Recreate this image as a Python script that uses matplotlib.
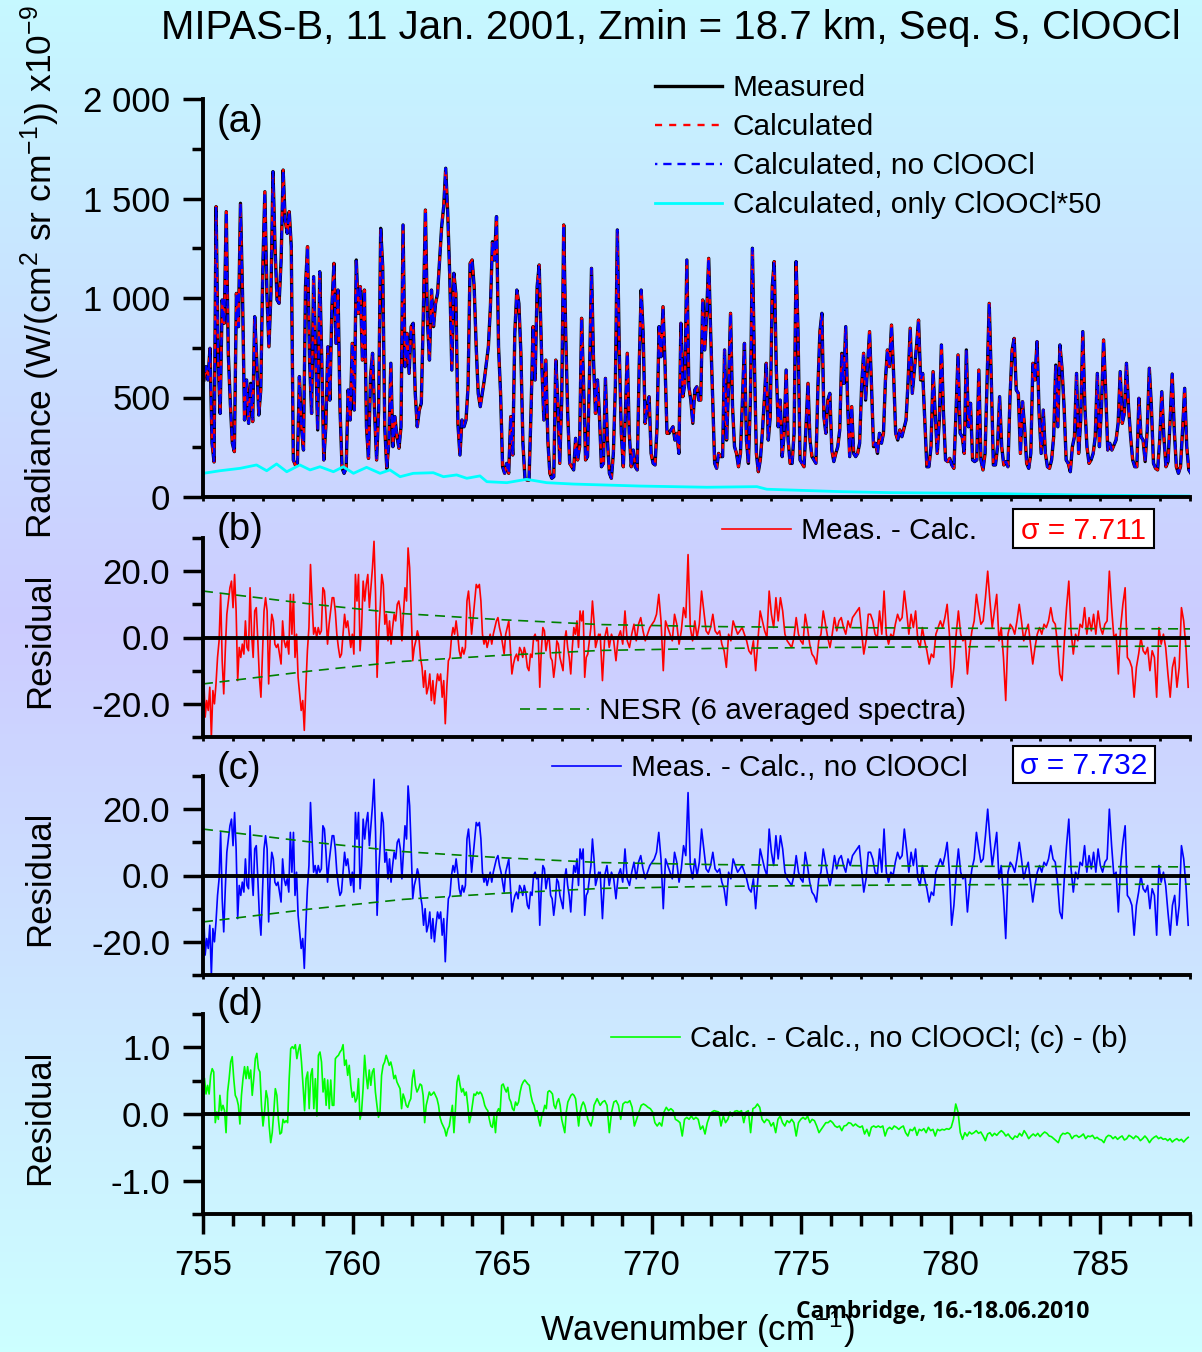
import numpy as np
import matplotlib.pyplot as plt
from matplotlib.colors import LinearSegmentedColormap
from matplotlib.patches import Rectangle
from matplotlib.ticker import FixedLocator, MultipleLocator, FuncFormatter

plt.rcParams['font.family'] = ['Liberation Sans', 'DejaVu Sans']
plt.rcParams['mathtext.fontset'] = 'custom'
plt.rcParams['mathtext.rm'] = 'Liberation Sans'
plt.rcParams['mathtext.it'] = 'Liberation Sans:italic'
plt.rcParams['mathtext.bf'] = 'Liberation Sans:bold'
plt.rcParams['axes.unicode_minus'] = False

# ---------------- data ----------------
# (a) measured radiance (x1e-9 W/(cm2 sr cm-1)), three stretches, even wavenumber steps
rad_1_range = (755.03, 766.24)
rad_1 = [588, 655, 588, 747, 270, 176, 1459, 688, 420, 990,
         873, 1434, 722, 471, 270, 228, 1023, 856, 1476, 1023,
         387, 588, 370, 571, 379, 906, 688, 412, 538, 1157,
         1534, 1023, 755, 1023, 1635, 1258, 990, 973, 1191, 1643,
         1392, 1325, 1434, 1258, 186, 161, 161, 605, 353, 236,
         1057, 1258, 688, 420, 1107, 722, 337, 1132, 688, 186,
         353, 755, 487, 956, 1174, 772, 1040, 437, 144, 119,
         144, 538, 387, 772, 437, 1191, 923, 1057, 688, 1040,
         353, 194, 605, 722, 420, 186, 437, 1350, 1157, 353,
         144, 270, 672, 253, 404, 303, 245, 353, 1367, 655,
         822, 621, 856, 873, 521, 353, 437, 471, 923, 1442,
         889, 688, 1040, 856, 973, 1023, 1191, 1358, 1459, 1652,
         1425, 1107, 638, 1124, 1023, 370, 211, 387, 353, 387,
         554, 1174, 1191, 1057, 755, 521, 454, 521, 588, 672,
         755, 956, 1283, 1191, 1409, 755, 521, 152, 119, 169,
         119, 404, 211, 822, 1040, 973, 722, 270, 94, 85,
         85, 437, 856, 588, 1057, 1166]
rad_2_range = (766.33, 777.95)
rad_2 = [655, 387, 688, 286, 119, 94, 102, 688, 487, 169,
         487, 1367, 822, 420, 169, 152, 136, 295, 186, 253,
         898, 571, 186, 203, 621, 1149, 688, 420, 588, 404,
         152, 169, 596, 286, 119, 94, 219, 554, 1342, 722,
         320, 152, 404, 722, 320, 152, 236, 152, 136, 655,
         1040, 822, 370, 454, 504, 219, 169, 161, 353, 856,
         705, 956, 672, 320, 320, 337, 353, 286, 320, 219,
         873, 504, 571, 1191, 554, 487, 370, 538, 554, 487,
         487, 990, 739, 923, 1199, 822, 487, 169, 144, 219,
         203, 203, 739, 286, 554, 923, 454, 253, 219, 152,
         219, 487, 772, 286, 169, 487, 1250, 688, 219, 127,
         186, 320, 487, 672, 286, 404, 1057, 1183, 655, 353,
         487, 203, 320, 638, 286, 169, 169, 320, 1183, 822,
         186, 169, 152, 353, 571, 286, 203, 186, 169, 554,
         831, 923, 404, 320, 487, 521, 236, 178, 219, 253,
         337, 722, 571, 856, 454, 203, 454, 219, 203, 219,
         270, 554, 722, 487, 655, 831, 554, 253, 270, 219,
         320, 270, 320, 588, 739, 655]
rad_3_range = (778.02, 788.03)
rad_3 = [864, 621, 320, 286, 337, 303, 345, 387, 588, 848,
         521, 638, 755, 889, 588, 621, 387, 152, 152, 253,
         630, 420, 219, 387, 764, 420, 186, 178, 194, 161,
         144, 420, 714, 320, 303, 219, 739, 353, 471, 186,
         178, 186, 638, 186, 136, 219, 588, 973, 588, 161,
         161, 253, 504, 253, 161, 178, 152, 504, 739, 797,
         538, 521, 219, 479, 353, 169, 144, 219, 672, 588,
         781, 420, 219, 437, 219, 152, 144, 186, 303, 663,
         353, 764, 647, 454, 186, 169, 127, 253, 303, 621,
         219, 387, 831, 454, 253, 169, 186, 219, 303, 621,
         253, 454, 789, 538, 236, 270, 236, 261, 286, 370,
         630, 370, 420, 672, 454, 303, 186, 152, 152, 496,
         303, 286, 178, 337, 647, 454, 169, 144, 136, 286,
         529, 303, 152, 178, 387, 618, 337, 152, 119, 152,
         337, 546, 253, 136, 119]

# ClOOCl-only contribution (x50)
clo_wn = [755.01, 755.57, 756.24, 756.79, 757.13, 757.46, 757.80, 758.24, 758.58,
          758.91, 759.36, 759.69, 760.03, 760.47, 760.92, 761.25, 761.59, 762.03,
          762.70, 763.04, 763.48, 763.82, 764.26, 764.49, 765.16, 765.82, 766.49,
          767.39, 769.62, 771.85, 773.52, 773.85, 776.30, 777.95, 780.99, 784.33, 788.01]
clo_rad = [119, 132, 144, 161, 132, 166, 127, 161, 136,
           152, 127, 152, 119, 149, 119, 136, 102, 119,
           122, 102, 111, 94, 106, 77, 72, 89, 72,
           65, 55, 49, 52, 39, 27, 22, 18, 10, 5]

# NESR envelope (6 averaged spectra)
nesr_wn = [755.0, 758.5, 761.7, 764.9, 768.3, 772.0, 776.0, 780.0, 784.0, 788.0]
nesr = [14.0, 10.2, 7.2, 5.4, 3.9, 3.3, 3.0, 2.8, 2.7, 2.6]

# (b) Meas. - Calc., two stretches on even steps
res_1_range = (755.02, 768.28)
res_1 = [-11, -24, -19, -22, -15, -30, -16, -20, -14, -6,
         -1, 13, -7, -17, -4, 7, 11, 15, 17, 9,
         19, 8, -13, -3, -6, -2, -5, 5, -3, -4,
         15, 1, -6, 8, 9, -1, -12, -18, -5, 8,
         12, 8, -14, 0, 7, 5, -2, -3, -2, -5,
         -8, 5, -1, -3, -1, -5, 13, 1, 13, -6,
         1, -12, -17, -22, -19, -28, -15, -4, 3, 22,
         11, 1, 3, 0, 3, 1, 2, 15, 14, 7,
         -2, 4, 8, 12, 12, 8, 1, -3, -6, -5,
         1, 7, 3, 5, 1, -3, 1, -5, 19, 11,
         19, -4, 3, 17, 11, 16, 19, 9, 15, 21,
         29, 13, -12, 1, 9, 19, 16, 4, 7, -1,
         5, -2, 3, 7, 5, 10, 11, 8, -1, 7,
         15, 11, 27, 21, 8, -7, -3, -1, 2, 0,
         -6, -9, -15, -10, -17, -15, -11, -19, -13, -20,
         -15, -11, -13, -11, -18, -13, -26, -15, -7, -6,
         0, 3, 1, 5, 1, -4, -6, -3, -5, -3,
         11, 14, 8, 1, 6, 11, 16, 15, 16, 11,
         1, -2, 0, -3, -1, 1, -2, 1, 3, 5,
         6, 3, 1, -2, -5, 1, 3, 5, -3, -11,
         -8, -6, -5, -7, -3, -4, -6, -3, -5, -9,
         -10, -5, -6, 0, 1, -1, 0, -15, -4, 3,
         2, -4, -1, 0, -6, -7, -12, -8, -1, -2,
         -6, -8, -10, -1, 2, -3, -6, -11, -3, 3,
         1, 5, -3, 8, 5, 8, -12, -6, -5, -1,
         3, 11, 5, -3, -1, 1, 0]
res_2_range = (768.28, 787.94)
res_2 = [1, -13, 0, 3, -3, 1, -1, -7, 0, 2,
         -2, 8, -1, -3, 1, 4, -1, 4, 6, 2,
         -1, 1, 3, 4, 5, 7, 13, 5, -10, 5,
         3, 1, -1, 7, 4, -2, 2, 9, 6, 25,
         3, -1, 5, 0, 4, 14, 8, 2, 1, 3,
         7, 2, 1, 2, -2, -4, -9, 1, -1, 5,
         3, 1, 2, 3, 1, -1, -4, -5, -1, -10,
         -1, 8, 5, 2, 0, 14, 7, 3, 12, 5,
         12, 8, 1, -1, -2, -3, 0, 6, 1, -1,
         -2, 7, 3, -2, -5, -6, -8, -1, 1, 8,
         4, 0, -3, 1, 6, 2, 5, 6, 3, 1,
         5, 3, 6, 7, 8, 9, 2, -5, -1, 7,
         7, 5, 1, 0, 8, 1, 14, 1, -2, 1,
         0, 4, 7, 5, 6, 14, 8, 1, 7, 3,
         8, -1, -3, 3, -1, -4, -8, -5, -6, 1,
         3, 5, 3, 6, 10, 1, -15, -9, 1, 8,
         1, -1, 0, -11, -3, 2, 5, 13, 8, 4,
         5, 12, 20, 11, 3, 8, 13, -1, 3, -6,
         -19, 1, 4, 3, 1, 5, 10, 5, -1, 2,
         4, -2, -8, -3, 1, 3, 1, 4, 3, 5,
         9, 5, 4, -2, -11, -13, -1, 9, 17, 2,
         -5, 1, -1, 4, 3, 9, 1, 6, 2, 7,
         1, 8, 3, 1, 4, 5, 20, 9, 0, 1,
         -11, 3, 10, 15, -6, -7, -9, -18, -9, -5,
         0, -4, -5, -3, -10, -4, -6, -18, 3, -2,
         1, -3, -11, -18, -9, -6, -15, -9, 9, 5,
         -3, -15]

# (d) Calc. - Calc., no ClOOCl
dif_1_range = (755.05, 768.28)
dif_1 = [0.53, 0.30, 0.43, 0.30, 0.58, 0.68, 0.63, -0.13, 0.03, -0.08,
         0.28, 0.05, 0.13, 0.05, -0.28, 0.33, 0.53, 0.78, 0.86, 0.53,
         0.28, 0.23, 0.13, -0.15, 0.28, 0.53, 0.71, 0.53, 0.71, 0.53,
         0.66, 0.28, 0.53, 0.83, 0.91, 0.68, 0.63, 0.13, -0.18, 0.03,
         0.35, 0.23, -0.18, -0.43, -0.28, 0.03, 0.38, 0.28, -0.08, -0.30,
         -0.28, -0.08, -0.13, -0.10, -0.13, 0.53, 0.98, 1.01, 0.98, 1.04,
         0.83, 0.96, 1.04, 0.78, 0.43, 0.05, 0.53, 0.63, 0.08, 0.58,
         0.68, 0.08, 0.53, -0.03, 0.88, 0.93, 0.78, 0.33, 0.53, 0.13,
         0.51, 0.08, 0.51, 0.13, 0.13, 0.83, 0.86, 0.88, 0.93, 0.96,
         1.04, 0.73, 0.81, 0.58, 0.73, 0.43, 0.25, 0.33, 0.18, 0.23,
         0.53, -0.08, 0.03, 0.38, 0.88, 0.58, 0.38, 0.66, 0.43, 0.63,
         0.68, 0.33, 0.13, -0.05, 0.03, 0.58, 0.73, 0.78, 0.88, 0.81,
         0.73, 0.78, 0.68, 0.53, 0.58, 0.48, 0.43, 0.38, 0.08, 0.30,
         0.23, 0.13, 0.10, 0.18, 0.23, 0.53, 0.66, 0.43, 0.33, 0.38,
         0.45, 0.43, 0.28, -0.13, 0.13, 0.23, 0.33, 0.28, 0.30, 0.33,
         0.28, 0.23, 0.13, -0.05, -0.13, -0.18, -0.23, -0.33, -0.23, -0.18,
         -0.03, 0.13, -0.28, 0.08, 0.48, 0.58, 0.43, 0.33, 0.38, 0.28,
         0.33, 0.13, -0.13, -0.03, 0.13, 0.30, 0.28, 0.33, 0.30, 0.33,
         0.30, 0.23, 0.13, 0.08, 0.05, -0.08, -0.18, -0.20, -0.03, -0.28,
         0.03, 0.08, 0.03, 0.43, 0.45, 0.38, 0.33, 0.40, 0.23, 0.18,
         0.08, 0.05, 0.18, 0.13, 0.18, 0.33, 0.43, 0.48, 0.51, 0.48,
         0.45, 0.43, 0.28, 0.18, 0.13, 0.03, 0.05, -0.08, -0.18, -0.03,
         0.03, 0.13, 0.08, 0.33, 0.35, 0.33, 0.30, 0.13, 0.08, 0.18,
         0.23, 0.13, -0.08, -0.18, -0.28, 0.03, 0.18, 0.23, 0.28, 0.30,
         0.28, 0.23, 0.03, -0.18, 0.03, 0.13, 0.18, 0.13, 0.03, -0.08,
         -0.13, -0.18, -0.08, 0.13, 0.18, 0.23, 0.18, 0.13]
dif_2_range = (768.28, 787.94)
dif_2 = [0.13, 0.18, 0.20, 0.13, -0.28, 0.03, 0.18, 0.20, 0.13, -0.08,
         0.15, 0.18, 0.17, 0.20, 0.10, -0.18, -0.08, 0.03, 0.13, 0.15,
         0.13, 0.10, 0.08, 0.03, -0.13, -0.18, -0.13, -0.18, 0.03, 0.10,
         0.05, 0.08, 0.05, -0.08, -0.10, -0.13, -0.33, -0.08, -0.05, -0.08,
         -0.03, -0.08, -0.05, -0.08, -0.23, -0.18, -0.30, -0.13, -0.03, 0.03,
         0.05, 0.04, 0.03, -0.18, -0.03, -0.13, -0.08, 0.03, -0.03, 0.04,
         0.05, 0.03, 0.05, -0.13, 0.03, 0.05, -0.28, 0.08, 0.10, 0.15,
         0.10, -0.08, -0.13, -0.08, -0.10, -0.18, -0.13, -0.28, -0.08, -0.03,
         -0.13, -0.18, -0.10, -0.13, -0.08, -0.13, -0.33, -0.13, -0.08, -0.05,
         -0.08, -0.03, -0.13, -0.08, -0.10, -0.18, -0.28, -0.23, -0.18, -0.13,
         -0.13, -0.10, -0.13, -0.18, -0.20, -0.18, -0.25, -0.18, -0.17, -0.13,
         -0.14, -0.18, -0.15, -0.18, -0.20, -0.18, -0.30, -0.23, -0.33, -0.20,
         -0.18, -0.20, -0.18, -0.20, -0.18, -0.33, -0.23, -0.20, -0.23, -0.18,
         -0.20, -0.23, -0.20, -0.18, -0.28, -0.33, -0.23, -0.25, -0.20, -0.32,
         -0.23, -0.25, -0.22, -0.28, -0.20, -0.25, -0.23, -0.33, -0.23, -0.25,
         -0.23, -0.24, -0.22, -0.23, -0.20, -0.08, 0.15, 0.03, -0.28, -0.38,
         -0.28, -0.33, -0.27, -0.30, -0.28, -0.25, -0.29, -0.27, -0.33, -0.40,
         -0.30, -0.28, -0.33, -0.29, -0.32, -0.28, -0.25, -0.28, -0.33, -0.30,
         -0.35, -0.38, -0.33, -0.35, -0.29, -0.33, -0.25, -0.30, -0.37, -0.33,
         -0.30, -0.33, -0.29, -0.34, -0.30, -0.27, -0.29, -0.33, -0.34, -0.37,
         -0.40, -0.43, -0.33, -0.29, -0.30, -0.28, -0.30, -0.37, -0.33, -0.32,
         -0.35, -0.33, -0.30, -0.37, -0.33, -0.34, -0.32, -0.37, -0.35, -0.38,
         -0.39, -0.43, -0.35, -0.32, -0.33, -0.37, -0.34, -0.38, -0.35, -0.33,
         -0.39, -0.37, -0.32, -0.34, -0.37, -0.33, -0.35, -0.40, -0.37, -0.33,
         -0.37, -0.43, -0.38, -0.35, -0.33, -0.37, -0.35, -0.38, -0.37, -0.40,
         -0.37, -0.42, -0.39, -0.37, -0.40, -0.38, -0.42, -0.38, -0.35]

sigma_b = 7.711
sigma_c = 7.732


def grid(rng, vals):
    return np.linspace(rng[0], rng[1], len(vals))


wn_a = np.concatenate([grid(rad_1_range, rad_1), grid(rad_2_range, rad_2), grid(rad_3_range, rad_3)])
measured = np.concatenate([rad_1, rad_2, rad_3])
calculated = measured.copy()        # both fits lie on the measurement at this scale
calculated_noclo = measured.copy()

wn_r = np.concatenate([grid(res_1_range, res_1), grid(res_2_range, res_2)])
resid_b = np.concatenate([res_1, res_2])
resid_c = resid_b.copy()            # (c) reads the same as (b); their difference is (d)

wn_d = np.concatenate([grid(dif_1_range, dif_1), grid(dif_2_range, dif_2)])
resid_d = np.concatenate([dif_1, dif_2])

nesr = np.array(nesr)

# ---------------- figure ----------------
W, H = 1202, 1352
fig = plt.figure(figsize=(W / 100, H / 100), dpi=100)


def px_box(x0, y0, x1, y1):
    return [x0 / W, 1 - y1 / H, (x1 - x0) / W, (y1 - y0) / H]


# background gradient
bg = fig.add_axes([0, 0, 1, 1], zorder=-5)
cmap = LinearSegmentedColormap.from_list('bg', [(0, '#c6f8ff'), (0.46, '#ccccff'), (1, '#ccffff')])
bg.imshow(np.linspace(0, 1, 256)[:, None], aspect='auto', cmap=cmap, extent=[0, 1, 0, 1])
bg.axis('off')

ax_a = fig.add_axes(px_box(203, 99, 1190, 497))
ax_b = fig.add_axes(px_box(203, 538, 1190, 737))
ax_c = fig.add_axes(px_box(203, 776, 1190, 975))
ax_d = fig.add_axes(px_box(203, 1014, 1190, 1214))

TICK = 25
for ax in (ax_a, ax_b, ax_c, ax_d):
    ax.set_facecolor('none')
    ax.spines[['top', 'right']].set_visible(False)
    ax.spines[['left', 'bottom']].set_linewidth(2.8)
    ax.set_xlim(755, 788)
    ax.xaxis.set_major_locator(MultipleLocator(5))
    ax.xaxis.set_minor_locator(MultipleLocator(1))
    ax.tick_params(axis='y', which='major', direction='out', length=14.5, width=2.5,
                   pad=9, labelsize=TICK)
    ax.tick_params(axis='y', which='minor', direction='out', length=8, width=2.5)
    if ax is not ax_d:
        ax.tick_params(axis='x', which='both', direction='out', length=3, width=2,
                       labelbottom=False)

# (a)
ax_a.plot(wn_a, measured, color='black', lw=2.4, label='Measured')
ax_a.plot(wn_a, calculated, color='red', lw=1.7, linestyle=(0, (3.0, 3.0)), label='Calculated')
ax_a.plot(wn_a, calculated_noclo, color='blue', lw=1.7, linestyle=(2.5, (3.5, 2.5)),
          label='Calculated, no ClOOCl')
ax_a.plot(clo_wn, clo_rad, color='cyan', lw=2, label='Calculated, only ClOOCl*50')
ax_a.set_ylim(0, 2000)
ax_a.yaxis.set_major_locator(FixedLocator([0, 500, 1000, 1500, 2000]))
ax_a.yaxis.set_minor_locator(MultipleLocator(250))
ax_a.yaxis.set_major_formatter(FuncFormatter(lambda v, p: f'{v:,.0f}'.replace(',', ' ')))

# (b), (c)
for ax, res, col in ((ax_b, resid_b, 'red'), (ax_c, resid_c, 'blue')):
    ax.plot(wn_r, res, color=col, lw=1.2)
    ax.plot(nesr_wn, nesr, color='#008000', lw=1.2, dashes=(6, 4))
    ax.plot(nesr_wn, -nesr, color='#008000', lw=1.2, dashes=(6, 4))
    ax.axhline(0, color='black', lw=2.8, zorder=3)
    ax.set_ylim(-30, 30)
    ax.yaxis.set_major_locator(FixedLocator([-20, 0, 20]))
    ax.yaxis.set_minor_locator(MultipleLocator(10))
    ax.yaxis.set_major_formatter(FuncFormatter(lambda v, p: f'{v:.1f}'))

# (d)
ax_d.plot(wn_d, resid_d, color='#00ff00', lw=1.2)
ax_d.axhline(0, color='black', lw=2.8, zorder=3)
ax_d.set_ylim(-1.5, 1.5)
ax_d.yaxis.set_major_locator(FixedLocator([-1, 0, 1]))
ax_d.yaxis.set_minor_locator(MultipleLocator(0.5))
ax_d.yaxis.set_major_formatter(FuncFormatter(lambda v, p: f'{v:.1f}'))
ax_d.tick_params(axis='x', which='major', direction='out', length=14.5, width=2.5,
                 pad=11, labelsize=TICK)
ax_d.tick_params(axis='x', which='minor', direction='out', length=8.5, width=2.5)

# legends
LEG = 21.5
leg_kw = dict(frameon=False, fontsize=LEG, borderpad=0, borderaxespad=0,
              handlelength=2.3, handletextpad=0.33)
fig.legend(handles=ax_a.lines, loc='upper left', bbox_to_anchor=(655 / W, 1 - 74 / H),
           labelspacing=0.37, **dict(leg_kw, handlelength=2.24, handletextpad=0.37))
fig.legend(handles=[ax_b.lines[0]], labels=['Meas. - Calc.'], loc='center left',
           bbox_to_anchor=(722 / W, 1 - 531 / H), **leg_kw)
fig.legend(handles=[ax_b.lines[1]], labels=['NESR (6 averaged spectra)'], loc='center left',
           bbox_to_anchor=(520 / W, 1 - 711 / H), **leg_kw)
fig.legend(handles=[ax_c.lines[0]], labels=['Meas. - Calc., no ClOOCl'], loc='center left',
           bbox_to_anchor=(552 / W, 1 - 768 / H), **leg_kw)
fig.legend(handles=[ax_d.lines[0]], labels=['Calc. - Calc., no ClOOCl; (c) - (b)'],
           loc='center left', bbox_to_anchor=(611 / W, 1 - 1039 / H), **leg_kw)

# sigma boxes
for (x0, y0, x1, y1), sig, col in (((1013, 509, 1154, 548), sigma_b, 'red'),
                                   ((1013, 746, 1155, 783), sigma_c, 'blue')):
    fig.add_artist(Rectangle((x0 / W, 1 - y1 / H), (x1 - x0) / W, (y1 - y0) / H,
                             transform=fig.transFigure, fc='white', ec='black', lw=1.5))
    fig.text((x0 + x1) / 2 / W, 1 - ((y0 + y1) / 2 + 2) / H, f'σ = {sig:.3f}', color=col,
             fontsize=LEG, ha='center', va='center')

# texts
fig.text(671 / W, 1 - 39 / H, 'MIPAS-B, 11 Jan. 2001, Zmin = 18.7 km, Seq. S, ClOOCl',
         fontsize=29, ha='center', va='baseline')
fig.text(40 / W, 1 - 272 / H, r'Radiance (W/(cm$^{2}$ sr cm$^{-1}$)) x10$^{-9}$',
         fontsize=25.5, rotation=90, ha='center', va='center')
for yc in (640, 878, 1117):
    fig.text(40 / W, 1 - yc / H, 'Residual', fontsize=TICK, rotation=90, ha='center', va='center')
for lab, yc in (('(a)', 122), ('(b)', 530), ('(c)', 769), ('(d)', 1005)):
    fig.text(217 / W, 1 - yc / H, lab, fontsize=27.5, ha='left', va='center')
fig.text(697 / W, 1 - 1341 / H, r'Wavenumber (cm$^{-1}$)', fontsize=25,
         ha='center', va='baseline')
fig.text(943 / W, 1 - 1312 / H, 'Cambridge, 16.-18.06.2010', fontsize=16.5,
         fontweight='bold', family=['Open Sans', 'DejaVu Sans'], ha='center', va='center',
         zorder=5)

fig.savefig('out.png', dpi=100)
